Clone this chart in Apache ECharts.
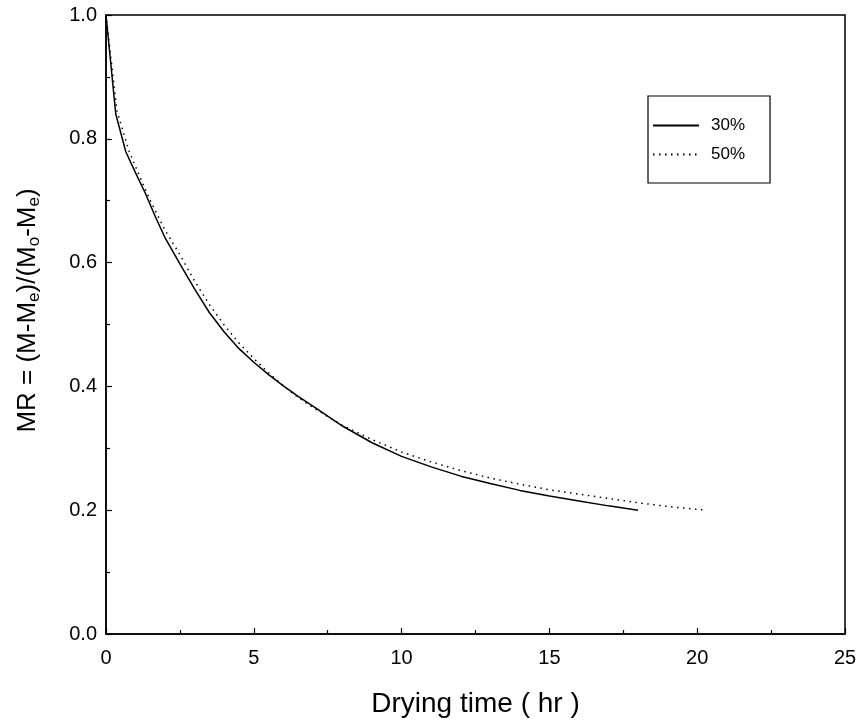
<!DOCTYPE html>
<html>
<head>
<meta charset="utf-8">
<script src="https://cdn.jsdelivr.net/npm/echarts@6/dist/echarts.min.js"></script>
<style>
html,body{margin:0;padding:0;background:#fff;}
#chart{width:861px;height:726px;}
</style>
</head>
<body>
<div id="chart"></div>
<script>
// Series: 30% (solid)
const time30 = [0, 0.33, 0.67, 1.0, 1.33, 1.67, 2.0, 2.5, 3.0, 3.5, 4.0, 4.5, 5.0, 5.5, 6.0, 6.5, 7.0, 8.0, 9.0, 10, 11, 12, 13, 14, 15, 16, 17, 18];
const mr30   = [1.0, 0.84, 0.779, 0.745, 0.712, 0.674, 0.640, 0.598, 0.557, 0.519, 0.488, 0.461, 0.439, 0.419, 0.401, 0.384, 0.368, 0.336, 0.309, 0.287, 0.270, 0.255, 0.243, 0.232, 0.223, 0.215, 0.207, 0.200];
// Series: 50% (dotted)
const time50 = [0, 0.37, 0.78, 1.15, 1.5, 2.0, 2.5, 3.0, 3.5, 4.0, 4.5, 5.0, 5.5, 6.0, 6.5, 7.0, 8.0, 9.0, 10, 11, 12, 13, 14, 15, 16, 17, 18, 19, 20.3];
const mr50   = [1.0, 0.845, 0.780, 0.738, 0.700, 0.652, 0.613, 0.570, 0.532, 0.499, 0.470, 0.445, 0.422, 0.401, 0.382, 0.366, 0.337, 0.314, 0.294, 0.278, 0.264, 0.252, 0.242, 0.233, 0.226, 0.219, 0.212, 0.206, 0.200];
const seriesNames = ['30%', '50%'];
const xTicks = {min: 0, max: 25, interval: 5};
const yTicks = {min: 0, max: 1, interval: 0.2};

const FONT = '"Liberation Sans", Arial, sans-serif';
const chart = echarts.init(document.getElementById('chart'), null, {renderer: 'canvas'});
const pair = (xs, ys) => xs.map((x, i) => [x, ys[i]]);

chart.setOption({
  animation: false,
  backgroundColor: '#fff',
  grid: {left: 106, right: 16, top: 15, bottom: 92, show: true, borderColor: '#000', borderWidth: 1.5, backgroundColor: 'transparent'},
  legend: {
    orient: 'vertical', left: 648, top: 96,
    borderColor: '#000', borderWidth: 1.2, padding: [21, 25, 20, 4],
    itemWidth: 46, itemHeight: 14, itemGap: 12,
    itemStyle: {opacity: 0},
    textStyle: {fontFamily: FONT, fontSize: 17, color: '#000', padding: [0, 0, 0, 7]},
    data: seriesNames
  },
  xAxis: {
    type: 'value', min: xTicks.min, max: xTicks.max, interval: xTicks.interval,
    name: 'Drying time ( hr )', nameLocation: 'middle', nameGap: 56,
    nameTextStyle: {fontFamily: FONT, fontSize: 28, color: '#000'},
    axisLine: {show: true, onZero: false, lineStyle: {color: '#000', width: 1.5}},
    axisTick: {show: true, inside: true, length: 6, lineStyle: {color: '#000', width: 1.2}},
    minorTick: {show: true, splitNumber: 2, length: 4, lineStyle: {color: '#000', width: 1.2}},
    axisLabel: {fontFamily: FONT, fontSize: 20, color: '#000', margin: 14},
    splitLine: {show: false}
  },
  yAxis: {
    type: 'value', min: yTicks.min, max: yTicks.max, interval: yTicks.interval,
    name: '{n|MR = (M-M}{s|e}{n|)/(M}{s|o}{n|-M}{s|e}{n|)}',
    nameLocation: 'middle', nameRotate: 90, nameGap: 63,
    nameTextStyle: {
      fontFamily: FONT, color: '#000', padding: [0, 0, 0, 28],
      rich: {
        n: {fontFamily: FONT, fontSize: 26, color: '#000', lineHeight: 30},
        s: {fontFamily: FONT, fontSize: 17, color: '#000', lineHeight: 12, verticalAlign: 'bottom'}
      }
    },
    axisLine: {show: true, onZero: false, lineStyle: {color: '#000', width: 1.5}},
    axisTick: {show: true, inside: true, length: 6, lineStyle: {color: '#000', width: 1.2}},
    minorTick: {show: true, splitNumber: 2, length: 4, lineStyle: {color: '#000', width: 1.2}},
    axisLabel: {fontFamily: FONT, fontSize: 20, color: '#000', margin: 9, formatter: v => v.toFixed(1)},
    splitLine: {show: false}
  },
  series: [
    {
      name: seriesNames[0], type: 'line', data: pair(time30, mr30),
      symbol: 'none', showSymbol: false, smooth: false,
      lineStyle: {color: '#000', width: 1.5, type: 'solid'},
      itemStyle: {color: '#000'}
    },
    {
      name: seriesNames[1], type: 'line', data: pair(time50, mr50),
      symbol: 'none', showSymbol: false, smooth: false,
      lineStyle: {color: '#000', width: 1.5, type: [1.5, 4.5]},
      itemStyle: {color: '#000'}
    }
  ]
});
</script>
</body>
</html>
